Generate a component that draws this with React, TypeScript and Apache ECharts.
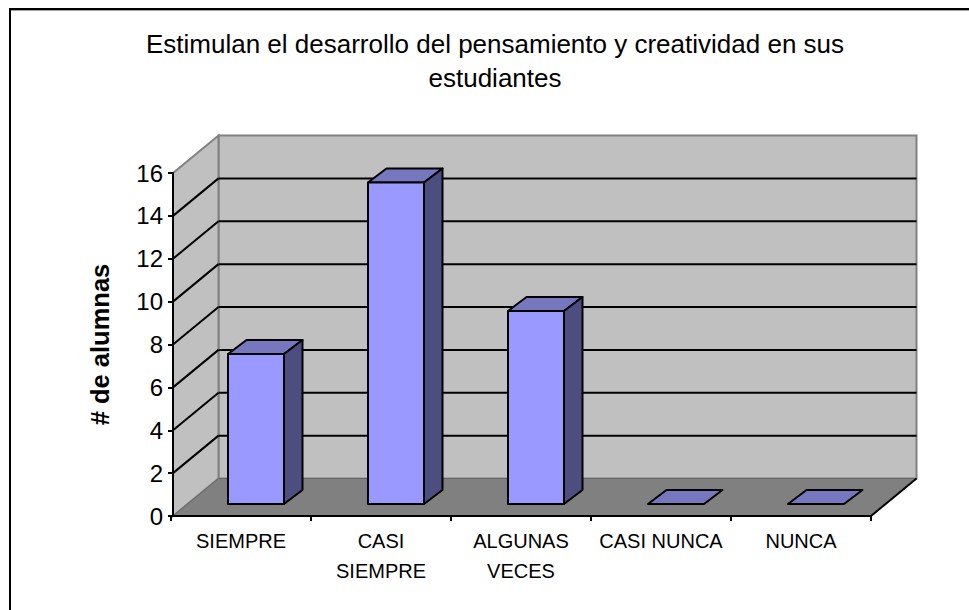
import React, { useEffect, useRef } from "react";
import * as echarts from "echarts";

const categories = ["SIEMPRE", "CASI\nSIEMPRE", "ALGUNAS\nVECES", "CASI NUNCA", "NUNCA"];
const alumnas = [7, 15, 9, 0, 0];
const yTicks = [0, 2, 4, 6, 8, 10, 12, 14, 16];
const titleText = "Estimulan el desarrollo del pensamiento y creatividad en sus\nestudiantes";
const yName = "# de alumnas";

const DX = 45.5;
const DY = -37.5;
const LEFT_INSET = 2;
const FONT = "'Liberation Sans', Arial, sans-serif";

function wallsItem(params: any, api: any) {
  const cs = params.coordSys;
  const l = cs.x + LEFT_INSET, r = cs.x + cs.width;
  const y0 = api.coord([0, 0])[1];
  const y16 = api.coord([0, 16])[1];
  const children: any[] = [
    { type: "polygon", shape: { points: [[l + DX, y16 + DY], [r + DX, y16 + DY], [r + DX, y0 + DY], [l + DX, y0 + DY]] }, style: { fill: "#C0C0C0", stroke: "#808080", lineWidth: 2 } },
    { type: "polygon", shape: { points: [[l, y16], [l + DX, y16 + DY], [l + DX, y0 + DY], [l, y0]] }, style: { fill: "#C0C0C0", stroke: "#808080", lineWidth: 2 } },
    { type: "polygon", shape: { points: [[l, y0], [r, y0], [r + DX, y0 + DY], [l + DX, y0 + DY]] }, style: { fill: "#808080", stroke: "#666666", lineWidth: 1 } },
    { type: "line", shape: { x1: r, y1: y0, x2: r + DX, y2: y0 + DY }, style: { stroke: "#000", lineWidth: 2 } },
  ];
  yTicks.slice(1, -1).forEach((t) => {
    const y = api.coord([0, t])[1];
    children.push(
      { type: "line", shape: { x1: l, y1: y, x2: l + DX, y2: y + DY }, style: { stroke: "#000", lineWidth: 2 } },
      { type: "line", shape: { x1: l + DX, y1: y + DY, x2: r + DX, y2: y + DY }, style: { stroke: "#000", lineWidth: 2 } }
    );
  });
  return { type: "group", children };
}

function barItem(_: any, api: any) {
  const idx = api.value(0);
  const val = api.value(1);
  const [cx, yTop0] = api.coord([idx, val]);
  const y00 = api.coord([idx, 0])[1];
  const hw = api.size([1, 0])[0] * 0.2;
  const fx = 15, fy = -12, bx = 18.5, by = -14;
  const xl = cx - hw + fx, xr = cx + hw + fx, yb = y00 + fy, yt = yTop0 + fy;
  const s = { stroke: "#000", lineWidth: 2, lineJoin: "round" };
  const children: any[] = [
    { type: "polygon", shape: { points: [[xl, yt], [xl + bx, yt + by], [xr + bx, yt + by], [xr, yt]] }, style: { ...s, fill: "#7777BF" } },
  ];
  if (val > 0) {
    children.push(
      { type: "polygon", shape: { points: [[xr, yt], [xr + bx, yt + by], [xr + bx, yb + by], [xr, yb]] }, style: { ...s, fill: "#4D4D80" } },
      { type: "polygon", shape: { points: [[xl, yt], [xr, yt], [xr, yb], [xl, yb]] }, style: { ...s, fill: "#9999FF" } }
    );
  }
  return { type: "group", children };
}

export default function App() {
  const ref = useRef<HTMLDivElement>(null);
  useEffect(() => {
    const chart = echarts.init(ref.current!, null, { renderer: "svg" });
    chart.setOption({
      animation: false,
      backgroundColor: "#fff",
      title: {
        text: titleText,
        left: 495,
        top: 27,
        padding: 0,
        textAlign: "center",
        textStyle: { fontFamily: FONT, fontSize: 26, lineHeight: 34, fontWeight: "normal", color: "#000" },
      },
      graphic: [
        { type: "line", shape: { x1: 9, y1: 10.5, x2: 969, y2: 10.5 }, style: { stroke: "#A0A0A0", lineWidth: 1 }, silent: true },
        { type: "line", shape: { x1: 9, y1: 9, x2: 969, y2: 9 }, style: { stroke: "#000", lineWidth: 2 }, silent: true },
        { type: "line", shape: { x1: 10, y1: 8, x2: 10, y2: 610 }, style: { stroke: "#000", lineWidth: 2 }, silent: true },
      ],
      grid: { left: 171, top: 173, width: 700, height: 343, containLabel: false },
      xAxis: {
        type: "category",
        data: categories,
        z: 6,
        axisLine: { lineStyle: { color: "#000", width: 2 } },
        axisTick: { show: true, length: 5, alignWithLabel: false, lineStyle: { color: "#000", width: 2 } },
        axisLabel: { fontFamily: FONT, fontSize: 20, color: "#000", margin: 10, lineHeight: 30, interval: 0, verticalAlign: "top" },
      },
      yAxis: {
        type: "value",
        min: 0,
        max: 16,
        interval: 2,
        offset: -2,
        z: 6,
        name: yName,
        nameLocation: "middle",
        nameGap: 60,
        nameTextStyle: { fontFamily: FONT, fontSize: 25.5, fontWeight: "bold", color: "#000" },
        axisLine: { show: true, lineStyle: { color: "#000", width: 2 } },
        axisTick: { show: true, length: 5, lineStyle: { color: "#000", width: 2 } },
        axisLabel: { fontFamily: FONT, fontSize: 24, color: "#000", margin: 10 },
        splitLine: { show: false },
      },
      series: [
        { type: "custom", z: 1, clip: false, silent: true, renderItem: wallsItem, data: [[0, 0]], encode: { x: 0, y: 1 } },
        { type: "custom", z: 3, clip: false, silent: true, renderItem: barItem, data: alumnas.map((v, i) => [i, v]), encode: { x: 0, y: 1 } },
      ],
    });
    return () => chart.dispose();
  }, []);
  return <div ref={ref} style={{ position: "fixed", left: 0, top: 0, width: 969, height: 610 }} />;
}
